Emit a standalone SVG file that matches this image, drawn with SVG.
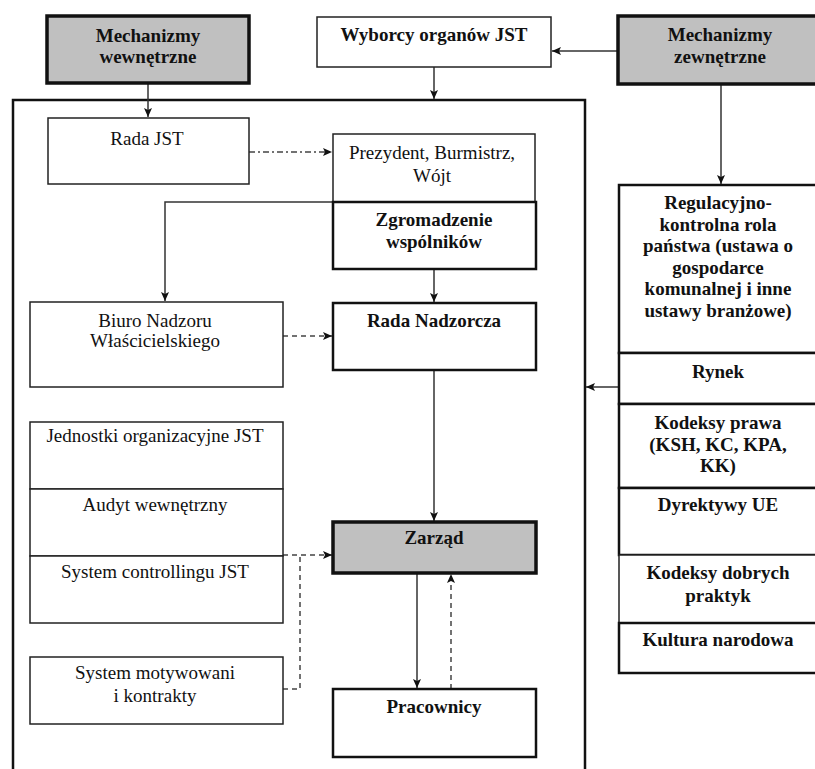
<svg xmlns="http://www.w3.org/2000/svg" width="815" height="769" viewBox="0 0 815 769" font-family="'Liberation Serif', 'Times New Roman', Tinos, 'DejaVu Serif', serif">
<defs>
<style>
text{font-family:'Liberation Serif','Times New Roman',Tinos,'DejaVu Serif',serif;font-size:19px;fill:#111;text-anchor:middle}
.b{font-weight:bold}
.box{fill:#fff;stroke:#222;stroke-width:1.5}
.tb{fill:#fff;stroke:#111;stroke-width:2.5}
.gray{fill:#c0c0c0;stroke:#111;stroke-width:3.5}
.ln{fill:none;stroke:#333;stroke-width:1.5}
.dash{fill:none;stroke:#444;stroke-width:1.5;stroke-dasharray:5 4}
.dd{fill:none;stroke:#444;stroke-width:1.3;stroke-dasharray:6 3 2 3}
</style>
<marker id="ah" markerWidth="10" markerHeight="10" refX="9" refY="5" orient="auto" markerUnits="userSpaceOnUse">
<path d="M0,1 L9,5 L0,9 L2,5 Z" fill="#111"/>
</marker>
</defs>
<rect width="815" height="769" fill="#fff"/>

<g id="frame">
<path d="M13,769 L13,100 L585,100 L585,769" fill="none" stroke="#111" stroke-width="2.5"/>
</g>

<g id="connectors">
<path class="ln" d="M148,83 L148,117" marker-end="url(#ah)"/>
<path class="ln" d="M434,67 L434,99" marker-end="url(#ah)"/>
<path class="ln" d="M618,51 L552,51" marker-end="url(#ah)"/>
<path class="ln" d="M721,84 L721,184" marker-end="url(#ah)"/>
<path class="ln" d="M619,387 L586,387" marker-end="url(#ah)"/>
<path class="dd" d="M249,152 L332,152" marker-end="url(#ah)"/>
<path class="ln" d="M333,202 L165,202 L165,301" marker-end="url(#ah)"/>
<path class="ln" d="M434,269 L434,302" marker-end="url(#ah)"/>
<path class="dash" d="M283,336 L332,336" marker-end="url(#ah)"/>
<path class="ln" d="M434,370 L434,521" marker-end="url(#ah)"/>
<path class="dash" d="M283,555 L332,555" marker-end="url(#ah)"/>
<path class="dash" d="M283,689 L300,689 L300,555"/>
<path class="ln" d="M417,573 L417,688" marker-end="url(#ah)"/>
<path class="dash" d="M451,689 L451,574" marker-end="url(#ah)"/>
</g>

<g id="mech-wewnetrzne">
<rect class="gray" x="47" y="16" width="202" height="67"/>
<text class="b" x="148" y="42">Mechanizmy</text>
<text class="b" x="148" y="63">wewnętrzne</text>
</g>

<g id="wyborcy">
<rect class="box" x="317" y="17" width="234" height="50"/>
<text class="b" x="434" y="41">Wyborcy organów JST</text>
</g>

<g id="mech-zewnetrzne">
<rect class="gray" x="618" y="16" width="200" height="68"/>
<text class="b" x="720" y="41">Mechanizmy</text>
<text class="b" x="720" y="63">zewnętrzne</text>
</g>

<g id="rada-jst">
<rect class="box" x="48" y="118" width="201" height="66"/>
<text x="147" y="145">Rada JST</text>
</g>

<g id="prezydent">
<rect class="box" x="333" y="134" width="202" height="68"/>
<text x="432" y="159">Prezydent, Burmistrz,</text>
<text x="432" y="182">Wójt</text>
</g>

<g id="zgromadzenie">
<rect class="tb" x="333" y="202" width="203" height="67"/>
<text class="b" x="434" y="226">Zgromadzenie</text>
<text class="b" x="434" y="248">wspólników</text>
</g>

<g id="biuro">
<rect class="box" x="30" y="302" width="253" height="85"/>
<text x="155" y="327">Biuro Nadzoru</text>
<text x="155" y="347">Właścicielskiego</text>
</g>

<g id="rada-nadzorcza">
<rect class="tb" x="333" y="303" width="203" height="67"/>
<text class="b" x="434" y="327">Rada Nadzorcza</text>
</g>

<g id="jednostki">
<rect class="box" x="30" y="422" width="253" height="67"/>
<text x="155" y="442">Jednostki organizacyjne JST</text>
</g>

<g id="audyt">
<rect class="box" x="30" y="489" width="253" height="67"/>
<text x="155" y="511">Audyt wewnętrzny</text>
</g>

<g id="controlling">
<rect class="box" x="30" y="556" width="253" height="67"/>
<text x="155" y="578">System controllingu JST</text>
</g>

<g id="motywowanie">
<rect class="box" x="30" y="657" width="253" height="67"/>
<text x="155" y="679">System motywowani</text>
<text x="155" y="702">i kontrakty</text>
</g>

<g id="zarzad">
<rect class="gray" x="333" y="522" width="203" height="51"/>
<text class="b" x="434" y="544">Zarząd</text>
</g>

<g id="pracownicy">
<rect class="tb" x="333" y="689" width="203" height="68"/>
<text class="b" x="434" y="713">Pracownicy</text>
</g>

<g id="regulacyjno">
<rect class="tb" x="619" y="185" width="200" height="168"/>
<text class="b" x="718" y="209">Regulacyjno-</text>
<text class="b" x="718" y="231">kontrolna rola</text>
<text class="b" x="718" y="252">państwa (ustawa o</text>
<text class="b" x="718" y="274">gospodarce</text>
<text class="b" x="718" y="295">komunalnej i inne</text>
<text class="b" x="718" y="317">ustawy branżowe)</text>
</g>

<g id="rynek">
<rect class="tb" x="619" y="353" width="200" height="51"/>
<text class="b" x="718" y="378">Rynek</text>
</g>

<g id="kodeksy-prawa">
<rect class="tb" x="619" y="404" width="200" height="84"/>
<text class="b" x="718" y="429">Kodeksy prawa</text>
<text class="b" x="718" y="451">(KSH, KC, KPA,</text>
<text class="b" x="718" y="472">KK)</text>
</g>

<g id="dyrektywy">
<rect class="tb" x="619" y="488" width="200" height="67"/>
<text class="b" x="718" y="511">Dyrektywy UE</text>
</g>

<g id="kodeksy-dobrych">
<rect class="box" x="619" y="555" width="200" height="68"/>
<text class="b" x="718" y="579">Kodeksy dobrych</text>
<text class="b" x="718" y="602">praktyk</text>
</g>

<g id="kultura">
<rect class="tb" x="619" y="623" width="200" height="50"/>
<text class="b" x="718" y="646">Kultura narodowa</text>
</g>
</svg>
